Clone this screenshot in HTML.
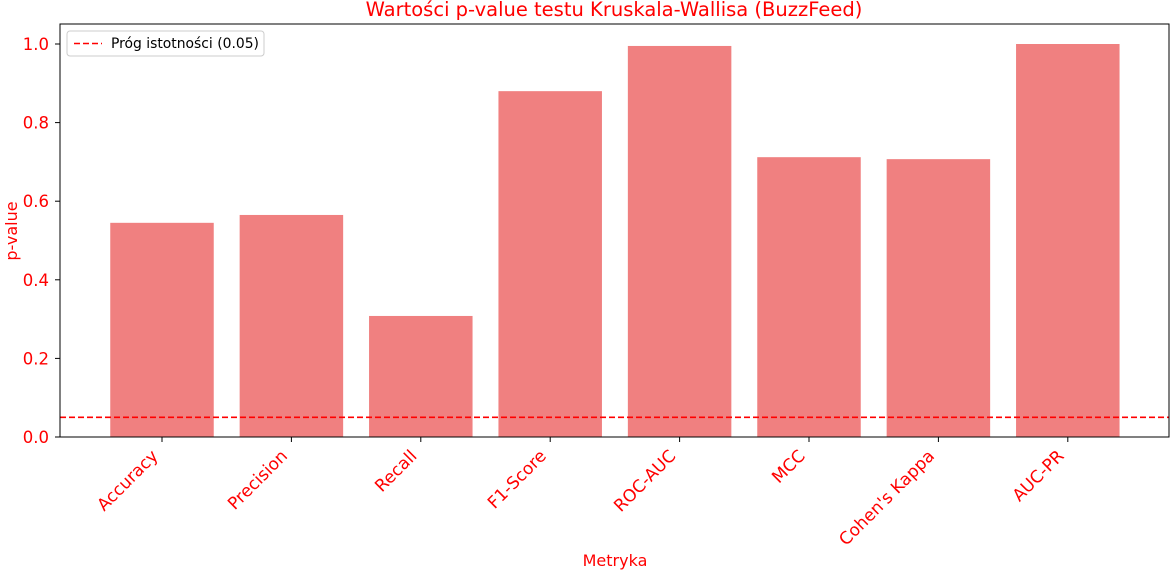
<!DOCTYPE html>
<html><head><meta charset="utf-8"><style>
body{margin:0;background:#fff}
svg text{font-family:"DejaVu Sans","Liberation Sans",sans-serif}
</style></head><body>
<svg id="chart" width="1170" height="570" xmlns="http://www.w3.org/2000/svg">
<text x="614" y="16" text-anchor="middle" font-size="19.5" fill="red">Wartości p-value testu Kruskala-Wallisa (BuzzFeed)</text>
<g id="bars"></g>
<g id="yticks"></g>
<g id="xticks"></g>
<line x1="60" y1="417" x2="1169" y2="417" stroke="red" stroke-width="1.6" stroke-dasharray="6,3" id="thr"/>
<rect x="60" y="24" width="1109" height="413" fill="none" stroke="#000" stroke-width="1"/>
<g>
<rect x="67" y="31" width="197" height="25" rx="3" fill="#fff" stroke="#ccc"/>
<line x1="74" y1="43.5" x2="102" y2="43.5" stroke="red" stroke-width="1.6" stroke-dasharray="6,3"/>
<text x="111" y="48" font-size="13.9" fill="#000">Próg istotności (0.05)</text>
</g>
<text x="17" y="231" font-size="16" fill="red" text-anchor="middle" transform="rotate(-90 17 231)">p-value</text>
<text x="615" y="566" font-size="16" fill="red" text-anchor="middle">Metryka</text>
</svg>
<script>
const categories=["Accuracy","Precision","Recall","F1-Score","ROC-AUC","MCC","Cohen's Kappa","AUC-PR"];
const values=[0.545,0.565,0.308,0.880,0.995,0.712,0.707,1.0];
const yTicks=[0,0.2,0.4,0.6,0.8,1.0];
const yTickLabels=["0.0","0.2","0.4","0.6","0.8","1.0"];
const threshold=0.05;
const NS="http://www.w3.org/2000/svg";
const y0=437,yScale=393;
const yPos=v=>y0-v*yScale;
const xPos=i=>162+129.4*i;
const bw=103.5;
function mk(t,a,p){const e=document.createElementNS(NS,t);for(const k in a)e.setAttribute(k,a[k]);p.appendChild(e);return e;}
const bars=document.getElementById('bars');
values.forEach((v,i)=>{
 const r=mk('rect',{x:xPos(i)-bw/2,y:yPos(v),width:bw,height:v*yScale,fill:'#f08080'},bars);
 
 
});
const yt=document.getElementById('yticks');
yTicks.forEach((v,i)=>{
 mk('line',{x1:55,x2:60,y1:yPos(v),y2:yPos(v),stroke:'#000'},yt);
 const t=mk('text',{x:49,y:yPos(v)+6,'text-anchor':'end','font-size':16.5,fill:'red'},yt);
 t.textContent=yTickLabels[i];
 
 
});
const xt=document.getElementById('xticks');
categories.forEach((c,i)=>{
 const x=xPos(i);
 mk('line',{x1:x,x2:x,y1:437,y2:442,stroke:'#000'},xt);
 const ex=x-3,ey=457;
 const t=mk('text',{x:ex,y:ey,'text-anchor':'end','font-size':17,fill:'red',transform:`rotate(-45 ${ex} ${ey})`},xt);
 t.textContent=c;
 
 
});
const th=document.getElementById('thr');th.setAttribute('y1',yPos(threshold));th.setAttribute('y2',yPos(threshold));
</script>
</body></html>
